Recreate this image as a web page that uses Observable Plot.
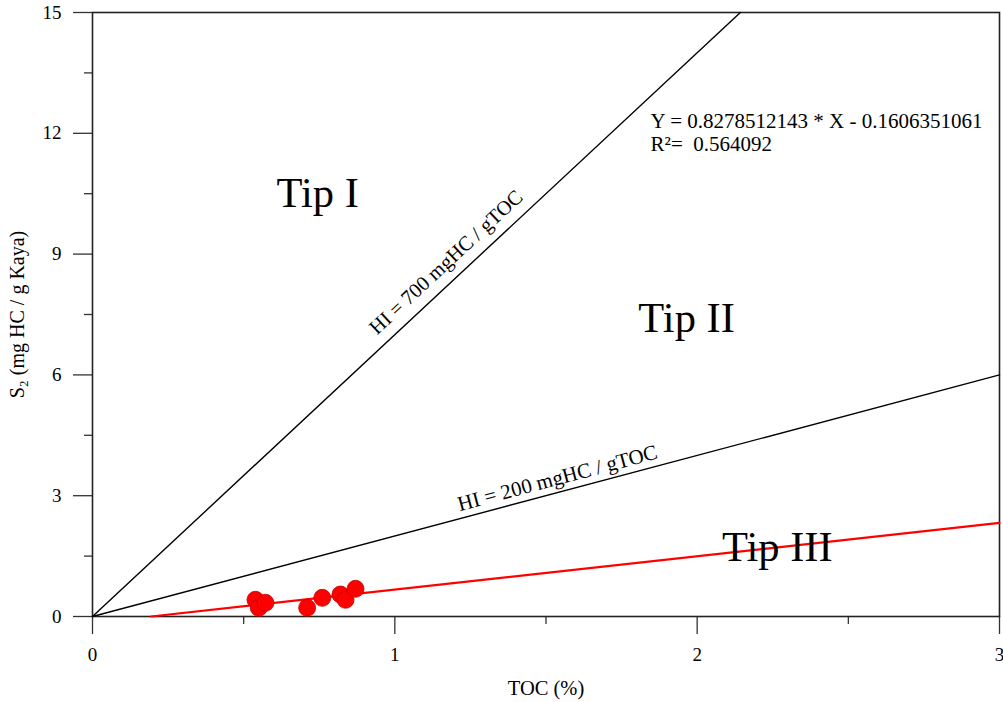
<!DOCTYPE html>
<html>
<head>
<meta charset="utf-8">
<script src="https://cdn.jsdelivr.net/npm/d3@7"></script>
<script src="https://cdn.jsdelivr.net/npm/@observablehq/plot@0.6"></script>
<style>
  html, body { margin: 0; padding: 0; background: white; }
  svg text { font-family: "Liberation Serif", "Times New Roman", serif; }
</style>
</head>
<body>
<div id="chart"></div>
<script>
// ---- data ----
const toc = [0.539, 0.550, 0.572, 0.710, 0.760, 0.820, 0.837, 0.870];
const s2  = [0.415, 0.216, 0.340, 0.216, 0.464, 0.546, 0.415, 0.688];

const hiValues = [700, 200];                 // HI lines (mgHC / gTOC)
const hiLabels = ["HI = 700 mgHC / gTOC", "HI = 200 mgHC / gTOC"];
const hiLabelToc = [1.21, 1.55];             // where along each line the label sits
const hiLabelOffset = [18, 14];              // px above the line

const fitSlope = 0.8278512143;
const fitIntercept = -0.1606351061;
const fitR2 = "0.564092";

const regionNames = ["Tip I", "Tip II", "Tip III"];
const regionToc = [0.745, 1.965, 2.265];
const regionS2 = [10.5, 7.4, 1.72];

const xDomain = [0, 3];
const yDomain = [0, 15];
const xTicks = [0, 1, 2, 3];
const yTicks = [0, 3, 6, 9, 12, 15];
const xMinor = [0.5, 1.5, 2.5];
const yMinor = [1.5, 4.5, 7.5, 10.5, 13.5];

// ---- layout ----
const W = 1003, H = 702;
const mL = 92, mR = 4, mT = 12, mB = 86;
const pxPerX = (W - mL - mR) / (xDomain[1] - xDomain[0]);
const pxPerY = (H - mT - mB) / (yDomain[1] - yDomain[0]);
const font = "Liberation Serif";

// HI lines: from origin to where they leave the frame
const hiLines = hiValues.flatMap(h => {
  const k = h / 100;
  const xEnd = Math.min(xDomain[1], yDomain[1] / k);
  return [{h, x: 0, y: 0}, {h, x: xEnd, y: k * xEnd}];
});

// regression line from its zero crossing to the right edge
const fitStart = -fitIntercept / fitSlope;
const fitLine = [fitStart, xDomain[1]].map(x => ({x, y: fitSlope * x + fitIntercept}));

const points = toc.map((t, i) => ({toc: t, s2: s2[i]}));
const regions = regionNames.map((n, i) => ({n, x: regionToc[i], y: regionS2[i]}));

function hiLabelMark(i, size) {
  const k = hiValues[i] / 100;
  const a = Math.atan(k * pxPerY / pxPerX);  // radians
  const off = hiLabelOffset[i];
  return Plot.text([i], {
    x: () => hiLabelToc[i],
    y: () => k * hiLabelToc[i],
    text: () => hiLabels[i],
    rotate: -a * 180 / Math.PI,
    dx: -off * Math.sin(a),
    dy: -off * Math.cos(a),
    fontSize: size,
    fontFamily: font,
    fill: "black",
    textAnchor: "middle",
    lineAnchor: "middle"
  });
}

const chart = Plot.plot({
  width: W,
  height: H,
  marginLeft: mL,
  marginRight: mR,
  marginTop: mT,
  marginBottom: mB,
  x: {domain: xDomain},
  y: {domain: yDomain},
  style: {fontFamily: font, background: "white", color: "black"},
  marks: [
    // minor ticks
    Plot.axisX(xMinor, {tickSize: 8, text: null, label: null, stroke: "#333", strokeWidth: 1.3}),
    Plot.axisY(yMinor, {tickSize: 8, text: null, label: null, stroke: "#333", strokeWidth: 1.3}),
    // major ticks
    Plot.axisX(xTicks, {tickSize: 18, tickPadding: 13, fontSize: 19, fontFamily: font, tickFormat: d => String(d), label: null, stroke: "#333", strokeWidth: 1.3, fill: "black"}),
    Plot.axisY(yTicks, {tickSize: 19, tickPadding: 12, fontSize: 19, fontFamily: font, tickFormat: d => String(d), label: null, stroke: "#333", strokeWidth: 1.3, fill: "black"}),
    Plot.frame({stroke: "#222", strokeWidth: 1.6}),
    // HI lines
    Plot.line(hiLines, {x: "x", y: "y", z: "h", stroke: "black", strokeWidth: 1.4}),
    hiLabelMark(0, 20.5),
    hiLabelMark(1, 21),
    // regression
    Plot.line(fitLine, {x: "x", y: "y", stroke: "#ff0000", strokeWidth: 2.2}),
    // samples
    Plot.dot(points, {x: "toc", y: "s2", r: 8.5, fill: "#ff0000", stroke: "#c00000", strokeWidth: 0.8}),
    // region labels
    Plot.text(regions, {x: "x", y: "y", text: "n", fontSize: 42.5, fontFamily: font, fill: "black", lineAnchor: "middle"}),
    // equation
    Plot.text([0], {
      x: () => 1.846, y: () => 12.52,
      text: () => `Y = ${fitSlope} * X - ${Math.abs(fitIntercept)}\nR²=  ${fitR2}`,
      textAnchor: "start", lineAnchor: "top", lineHeight: 1.08, fontSize: 21, fontFamily: font, fill: "black"
    }),
    // axis titles
    Plot.text(["TOC (%)"], {frameAnchor: "bottom", dy: 72, text: d => d, fontSize: 20.5, fontFamily: font, fill: "black", lineAnchor: "middle"}),
    Plot.text(["S₂ (mg HC / g Kaya)"], {frameAnchor: "left", dx: -75, rotate: -90, text: d => d, fontSize: 20, fontFamily: font, fill: "black", lineAnchor: "middle", textAnchor: "middle"})
  ]
});
document.getElementById("chart").appendChild(chart);
</script>
</body>
</html>
